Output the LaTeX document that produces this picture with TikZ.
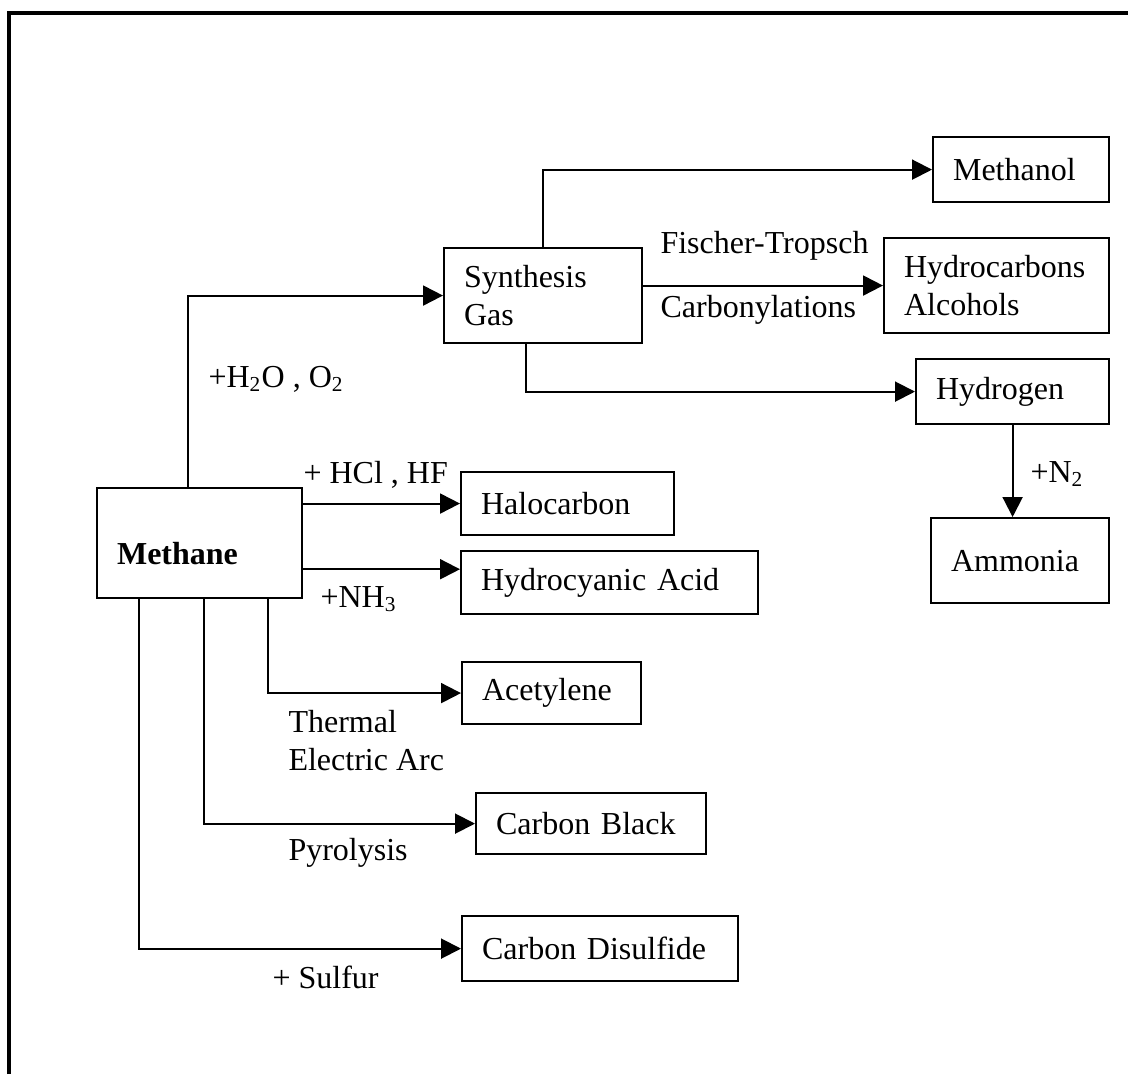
\documentclass[tikz,border=0pt]{standalone}
\usepackage{fontspec}
\setmainfont{Liberation Serif}
\usetikzlibrary{arrows.meta}

\begin{document}
\begin{tikzpicture}[x=0.375pt,y=-0.375pt,font=\fontsize{12}{14}\selectfont,
  prod/.style={draw,line width=0.8pt,anchor=north west,align=left,inner xsep=7.5pt,inner ysep=0pt},
  flow/.style={line width=0.75pt,-{Triangle[length=7.5pt,width=7.5pt]}},
  lbl/.style={anchor=base west,inner sep=0pt,align=left}]
  \useasboundingbox (0,0) rectangle (1128,1074);
  % frame
  \draw[line width=1.2pt] (9,1074) -- (9,13) -- (1128,13);

  % feed and products
  \node[prod,text width=61.9pt,minimum height=41.25pt,text height=16pt,text depth=0pt,font=\fontsize{12}{14}\selectfont\bfseries] (methane) at (96,487) {Methane};
  \node[prod,text width=59.25pt,minimum height=35.6pt] (syngas) at (443,247) {Synthesis\\Gas};
  \node[prod,text width=51pt,minimum height=24.4pt] (methanol) at (932,136) {Methanol};
  \node[prod,text width=69.4pt,minimum height=35.6pt] (hydrocarb) at (883,237) {Hydrocarbons\\Alcohols};
  \node[prod,text width=57.4pt,minimum height=24.4pt] (hydrogen) at (915,358) {Hydrogen};
  \node[prod,text width=51.75pt,minimum height=31.9pt] (ammonia) at (930,517) {Ammonia};
  \node[prod,text width=64.9pt,minimum height=23.6pt] (halo) at (460,471) {Halocarbon};
  \node[prod,text width=96.4pt,minimum height=23.6pt] (hcn) at (460,550) {Hydrocyanic Acid};
  \node[prod,text width=52.1pt,minimum height=23.25pt] (acet) at (461,661) {Acetylene};
  \node[prod,text width=71.25pt,minimum height=22.9pt] (cblack) at (475,792) {Carbon Black};
  \node[prod,text width=88.5pt,minimum height=24.4pt] (cstwo) at (461,915) {Carbon Disulfide};
  \coordinate (hcnin) at ([yshift=5pt]hcn.west);

  % routes
  \draw[flow] ([xshift=34.5pt]methane.north west) |- (syngas.west);
  \draw[flow] (syngas.north) |- (methanol.west);
  \draw[flow] (syngas.east |- hydrocarb.west) -- (hydrocarb.west);
  \draw[flow] ([xshift=31.1pt]syngas.south west) |- (hydrogen.west);
  \draw[flow] (hydrogen.south) -- (hydrogen.south |- ammonia.north);
  \draw[flow] (methane.east |- halo.west) -- (halo.west);
  \draw[flow] (methane.east |- hcnin) -- (hcnin);
  \foreach \dx/\tgt in {64.5pt/acet,40.5pt/cblack,16.1pt/cstwo}
    \draw[flow] ([xshift=\dx]methane.south west) |- (\tgt.west);

  % conditions
  \node[lbl] (lwater) at (208,387) {+H\textsubscript{2}O , O\textsubscript{2}};
  \node[lbl] (lhcl) at (303,483) {+ HCl , HF};
  \node[lbl] (lnh3) at (320,607) {+NH\textsubscript{3}};
  \node[lbl] (lft) at (660,253) {Fischer-Tropsch};
  \node[lbl] (lcarb) at (660,317) {Carbonylations};
  \node[lbl] (ln2) at (1030,482) {+N\textsubscript{2}};
  \node[lbl] (lthermal) at (288,770) {Thermal\\Electric Arc};
  \node[lbl] (lpyro) at (288,860) {Pyrolysis};
  \node[lbl] (lsulfur) at (272,988) {+ Sulfur};
\end{tikzpicture}
\end{document}
